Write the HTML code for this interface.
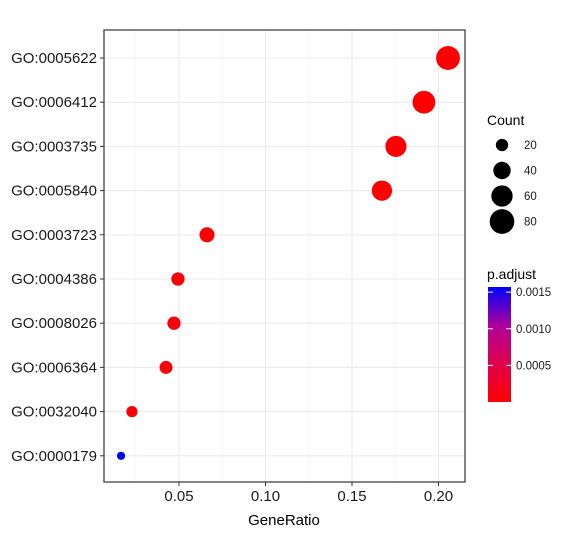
<!DOCTYPE html>
<html><head><meta charset="utf-8"><style>
body{margin:0;background:#fff;}
svg text{font-family:"Liberation Sans",Arial,sans-serif;}
</style></head><body>
<svg id="chart" width="568" height="532" xmlns="http://www.w3.org/2000/svg">
<defs>
<linearGradient id="pg" x1="0" y1="1" x2="0" y2="0">
<stop offset="0" stop-color="#FF0000"/><stop offset="0.33" stop-color="#E0004A"/>
<stop offset="0.66" stop-color="#B0009A"/><stop offset="1" stop-color="#0000FF"/>
</linearGradient>
</defs>
<g id="grid"></g>
<g id="pts"></g>
<rect x="104" y="30" width="361" height="452" fill="none" stroke="#333" stroke-width="1.2"/>
<g id="axes"></g>
<text x="284" y="525" font-size="15" text-anchor="middle" fill="#000">GeneRatio</text>
<g>
<text x="487" y="125" font-size="14">Count</text>
<g id="sizeleg"></g>
</g>
<g>
<text x="487" y="279" font-size="14">p.adjust</text>
<rect x="488" y="287" width="23" height="115" fill="url(#pg)"/>
<g id="colleg"></g>
</g>
</svg>
<script>
const terms=["GO:0005622","GO:0006412","GO:0003735","GO:0005840","GO:0003723","GO:0004386","GO:0008026","GO:0006364","GO:0032040","GO:0000179"];
const ratios=[0.2055,0.1916,0.1754,0.1673,0.0662,0.0494,0.0471,0.0425,0.0228,0.0165];
const counts=[68,62,53,49,27,21,21,20,15,8];
const padj=[0.00001,0.00001,0.00001,0.00001,0.00002,0.00003,0.0001,0.00004,0.00002,0.00157];
const xTicks=[0.05,0.10,0.15,0.20];
const xTickLabels=["0.05","0.10","0.15","0.20"];
const sizeLegend=[20,40,60,80];
const colorTicks=[0.0005,0.0010,0.0015];
const colorTickLabels=["0.0005","0.0010","0.0015"];
const NS="http://www.w3.org/2000/svg";
const xs=v=>179+(v-0.05)*1730;
const ys=i=>58+i*44.2;
const rs=c=>1.45*Math.sqrt(c);
const cs=p=>{let t=Math.min(1,p/0.00157);
 const stops=[[255,0,0],[224,0,74],[176,0,154],[0,0,255]];
 let s=t*3,k=Math.min(2,Math.floor(s)),f=s-k;
 const a=stops[k],b=stops[k+1];
 return `rgb(${a.map((v,j)=>Math.round(v+(b[j]-v)*f)).join(",")})`;};
const py=p=>402-p/0.00157*115;
function mk(tag,at,parent){const e=document.createElementNS(NS,tag);for(const k in at)e.setAttribute(k,at[k]);document.getElementById(parent).appendChild(e);return e;}
for(let i=0;i<xTicks.length;i++){
 const l=mk("line",{x1:xs(xTicks[i]),x2:xs(xTicks[i]),y1:30,y2:482,stroke:"#ebebeb","stroke-width":1.1},"grid");
 
 
 const m=mk("line",{x1:xs(xTicks[i]-0.025),x2:xs(xTicks[i]-0.025),y1:30,y2:482,stroke:"#f2f2f2","stroke-width":0.6},"grid");
 
 
}
for(let i=0;i<terms.length;i++){
 const l=mk("line",{x1:104,x2:465,y1:ys(i),y2:ys(i),stroke:"#ebebeb","stroke-width":1.1},"grid");
 
 
}
for(let i=0;i<terms.length;i++){
 const c=mk("circle",{cx:xs(ratios[i]),cy:ys(i),r:rs(counts[i]),fill:cs(padj[i])},"pts");
 
 
}
for(let i=0;i<terms.length;i++){
 mk("line",{x1:100,x2:104,y1:ys(i),y2:ys(i),stroke:"#333"},"axes");
 const t=mk("text",{x:97,y:ys(i)+5,"font-size":15,"text-anchor":"end",fill:"#1a1a1a"},"axes");
 t.textContent=terms[i];
 
 
}
for(let i=0;i<xTicks.length;i++){
 mk("line",{x1:xs(xTicks[i]),x2:xs(xTicks[i]),y1:482,y2:486,stroke:"#333"},"axes");
 const t=mk("text",{x:xs(xTicks[i]),y:501,"font-size":15,"text-anchor":"middle",fill:"#1a1a1a"},"axes");
 t.textContent=xTickLabels[i];
 
 
}
for(let i=0;i<sizeLegend.length;i++){
 const y=145+i*25.5;
 const c=mk("circle",{cx:502,cy:y,r:rs(sizeLegend[i])*0.95,fill:"#000"},"sizeleg");
 
 
 const t=mk("text",{x:524,y:y+4,"font-size":11.5,fill:"#1a1a1a"},"sizeleg");
 t.textContent=sizeLegend[i];
 
 
}
for(let i=0;i<colorTicks.length;i++){
 const y=py(colorTicks[i]);
 mk("line",{x1:488,x2:493,y1:y,y2:y,stroke:"#fff","stroke-width":1},"colleg");
 mk("line",{x1:506,x2:511,y1:y,y2:y,stroke:"#fff","stroke-width":1},"colleg");
 const t=mk("text",{x:516,y:y+4,"font-size":11.5,fill:"#1a1a1a"},"colleg");
 t.textContent=colorTickLabels[i];
 
 
}
</script>
</body></html>
